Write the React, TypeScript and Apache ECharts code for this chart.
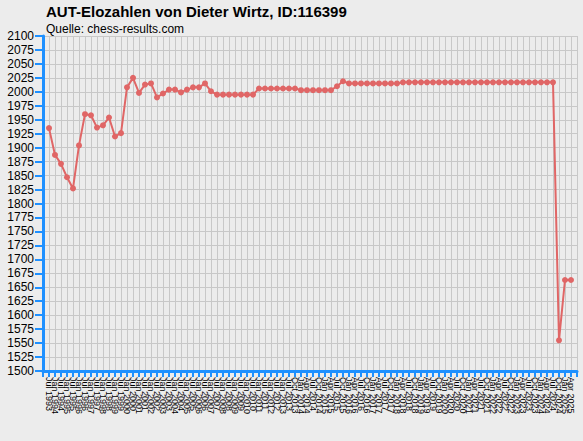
import { useEffect, useRef } from "react";
import * as echarts from "echarts";

const periods = [
  "Jul 1993", "Jan 1994", "Jul 1994", "Jan 1995", "Jul 1995", "Jan 1996", "Jul 1996", "Jan 1997",
  "Jul 1997", "Jan 1998", "Jul 1998", "Jan 1999", "Jul 1999", "Jan 2000", "Jul 2000", "Jan 2001",
  "Jul 2001", "Jan 2002", "Jul 2002", "Jan 2003", "Jul 2003", "Jan 2004", "Jul 2004", "Jan 2005",
  "Jul 2005", "Jan 2006", "Jul 2006", "Jan 2007", "Jul 2007", "Jan 2008", "Jul 2008", "Jan 2009",
  "Jul 2009", "Jan 2010", "Jul 2010", "Jan 2011", "Jul 2011", "Jan 2012", "Jul 2012", "Jan 2013",
  "Jul 2013", "Oct 2013", "Jan 2014", "Apr 2014", "Jul 2014", "Oct 2014", "Jan 2015", "Apr 2015",
  "Jul 2015", "Oct 2015", "Jan 2016", "Apr 2016", "Jul 2016", "Oct 2016", "Jan 2017", "Apr 2017",
  "Jul 2017", "Oct 2017", "Jan 2018", "Apr 2018", "Jul 2018", "Oct 2018", "Jan 2019", "Apr 2019",
  "Jul 2019", "Oct 2019", "Jan 2020", "Apr 2020", "Jul 2020", "Oct 2020", "Jan 2021", "Apr 2021",
  "Jul 2021", "Oct 2021", "Jan 2022", "Apr 2022", "Jul 2022", "Oct 2022", "Jan 2023", "Apr 2023",
  "Jul 2023", "Oct 2023", "Jan 2024", "Apr 2024", "Jul 2024", "Oct 2024", "Jan 2025", "Apr 2025",
];

const elo = [
  1935, 1887, 1871, 1847, 1827, 1904, 1960, 1958, 1936, 1940, 1954, 1920, 1926, 2008, 2025, 1998,
  2013, 2015, 1990, 1997, 2004, 2004, 1999, 2004, 2008, 2008, 2015, 2001,
  1995, 1995, 1995, 1995, 1995, 1995, 1995,
  2006, 2006, 2006, 2006, 2006, 2006, 2006,
  2003, 2003, 2003, 2003, 2003, 2003,
  2010, 2019,
  2015, 2015, 2015, 2015, 2015, 2015, 2015, 2015, 2015,
  2017, 2017, 2017, 2017, 2017, 2017, 2017, 2017, 2017, 2017, 2017, 2017, 2017,
  2017, 2017, 2017, 2017, 2017, 2017, 2017, 2017, 2017, 2017, 2017, 2017, 2017,
  1555, 1663, 1663,
];

const BLUE = "#1e90ff";
const RED = "#e06666";

export default function App() {
  const elRef = useRef<HTMLDivElement>(null);

  useEffect(() => {
    document.body.style.margin = "0";
    document.body.style.background = "#ececec";
    if (!elRef.current) return;
    const chart = echarts.init(elRef.current, null, { renderer: "svg" });
    // one empty slot at each end, so the first and last points sit off the axes
    const cats = ["", ...periods, ""];
    const data = [null, ...elo, null];
    chart.setOption({
      animation: false,
      backgroundColor: "#ececec",
      textStyle: { fontFamily: "Liberation Sans, Arial, sans-serif" },
      title: {
        left: 46,
        top: 4,
        padding: 0,
        itemGap: 4,
        text: "AUT-Elozahlen von Dieter Wirtz, ID:116399",
        subtext: "Quelle: chess-results.com",
        textStyle: { fontSize: 15, fontWeight: "bold", color: "#000" },
        subtextStyle: { fontSize: 12, color: "#000" },
      },
      grid: { left: 43, right: 6, top: 36, bottom: 70 },
      xAxis: {
        type: "category",
        data: cats,
        boundaryGap: false,
        axisLine: { lineStyle: { color: BLUE, width: 3 } },
        axisTick: { interval: 0, length: 6, lineStyle: { color: BLUE, width: 2 } },
        axisLabel: { interval: 0, rotate: -90, fontSize: 9, color: "#000", margin: 6 },
        splitLine: { show: true, interval: 0, lineStyle: { color: "#c8c8c8", width: 1 } },
      },
      yAxis: {
        type: "value",
        min: 1500,
        max: 2100,
        interval: 25,
        axisLine: { show: true, lineStyle: { color: BLUE, width: 3 } },
        axisTick: { show: true, length: 8, lineStyle: { color: BLUE, width: 2 } },
        axisLabel: { fontSize: 12, color: "#000", margin: 9, formatter: (v: number) => String(v) },
        splitLine: { lineStyle: { color: "#c8c8c8", width: 1 } },
      },
      series: [
        {
          type: "line",
          data,
          symbol: "circle",
          symbolSize: 6,
          itemStyle: { color: RED },
          lineStyle: { color: RED, width: 2 },
        },
      ],
    });
    return () => chart.dispose();
  }, []);

  return <div ref={elRef} style={{ width: 583, height: 441 }} />;
}
